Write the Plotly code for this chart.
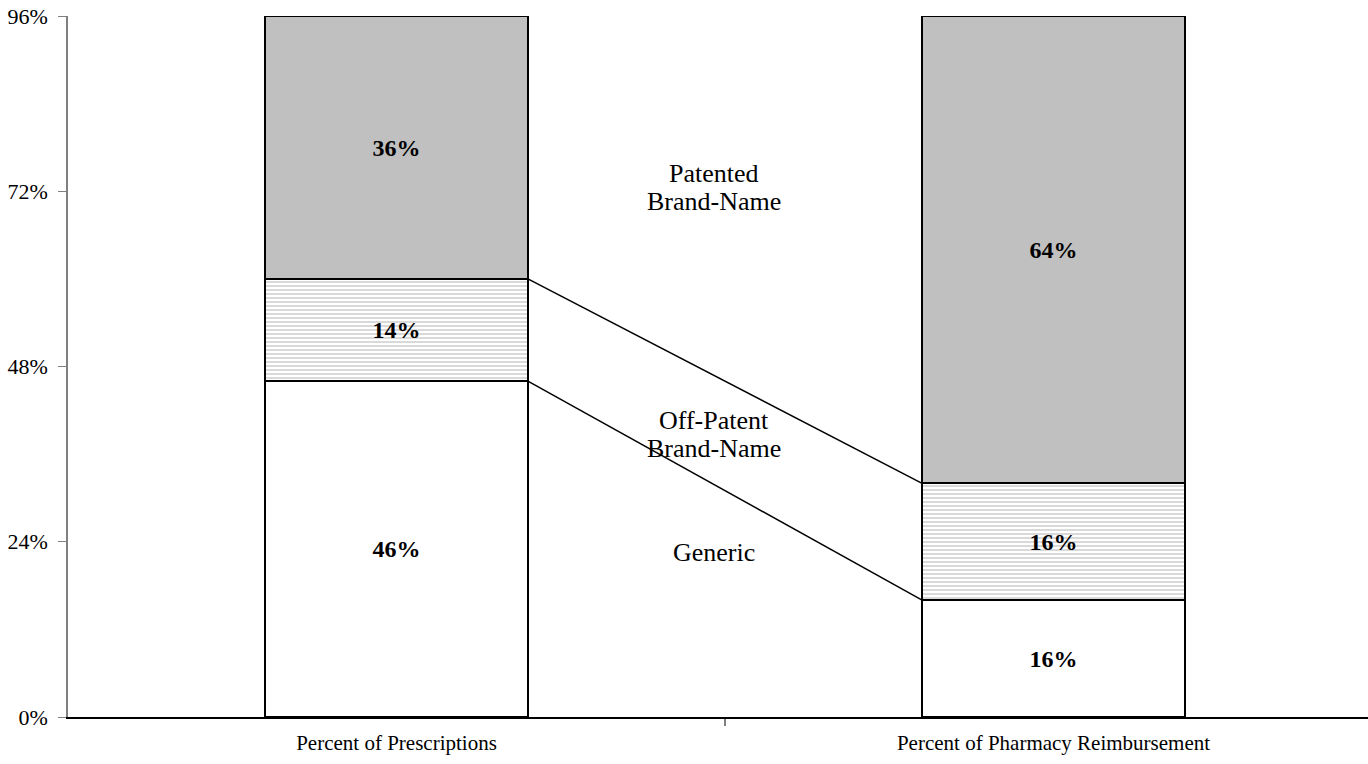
import plotly.graph_objects as go

categories = ["Percent of Prescriptions", "Percent of Pharmacy Reimbursement"]
generic = [46, 16]
off_patent = [14, 16]
patented = [36, 64]
y_ticks = [0, 24, 48, 72, 96]
y_tick_labels = ["0%", "24%", "48%", "72%", "96%"]

x = [0, 1]
serif = "Liberation Serif, Times New Roman, serif"
bar_w = 0.4

fig = go.Figure()
common = dict(x=x, width=bar_w, texttemplate="<b>%{y}%</b>", textposition="inside",
              insidetextanchor="middle", textangle=0,
              textfont=dict(family=serif, size=24, color="black"),
              marker_line=dict(color="black", width=2), showlegend=False, hoverinfo="skip")
fig.add_trace(go.Bar(y=generic, name="Generic", marker_color="white", **common))
fig.add_trace(go.Bar(y=off_patent, name="Off-Patent Brand-Name",
                     marker=dict(color="white", pattern=dict(shape="-", fgcolor="#808080", bgcolor="white",
                                                             size=4, solidity=0.3)), **common))
fig.add_trace(go.Bar(y=patented, name="Patented Brand-Name", marker_color="#C0C0C0", **common))

# connector lines between segment boundaries
b1 = [generic[0], generic[1]]
b2 = [generic[0] + off_patent[0], generic[1] + off_patent[1]]
for b in (b1, b2):
    fig.add_trace(go.Scatter(x=[x[0] + bar_w / 2, x[1] - bar_w / 2], y=b, mode="lines",
                             line=dict(color="black", width=1.5), showlegend=False, hoverinfo="skip"))

labels = [("Patented", 74.4), ("Brand-Name", 70.6), ("Off-Patent", 40.6), ("Brand-Name", 36.8),
          ("Generic", 22.5)]
for t, yy in labels:
    fig.add_annotation(x=0.4825, y=yy, text=t, showarrow=False,
                       font=dict(family=serif, size=26, color="black"), align="center")

fig.update_layout(
    barmode="stack", bargap=0,
    width=1368, height=764,
    margin=dict(l=68, r=0, t=16, b=47),
    paper_bgcolor="white", plot_bgcolor="white",
    font=dict(family=serif, color="black"),
)
fig.update_xaxes(range=[-0.5, -0.5 + 1300 / 657], tickvals=x, ticktext=categories, ticks="",
                 tickfont=dict(family=serif, size=21), showline=True, linecolor="black", linewidth=1.5,
                 showgrid=False, zeroline=False, ticklabelstandoff=6,
                 minor=dict(tickvals=[0.5], ticks="outside", ticklen=7, tickcolor="#808080", tickwidth=2))
fig.update_yaxes(range=[0, 96], tickvals=y_ticks, ticktext=y_tick_labels, ticks="outside", ticklen=8,
                 tickcolor="#808080", tickwidth=1, tickfont=dict(family=serif, size=22),
                 ticklabelstandoff=6,
                 showline=True, linecolor="#808080", linewidth=1.5, showgrid=False, zeroline=False)

fig.write_html("out.html", config={"displayModeBar": False},
               post_script="document.body.style.margin='0';document.body.style.overflow='hidden';")
